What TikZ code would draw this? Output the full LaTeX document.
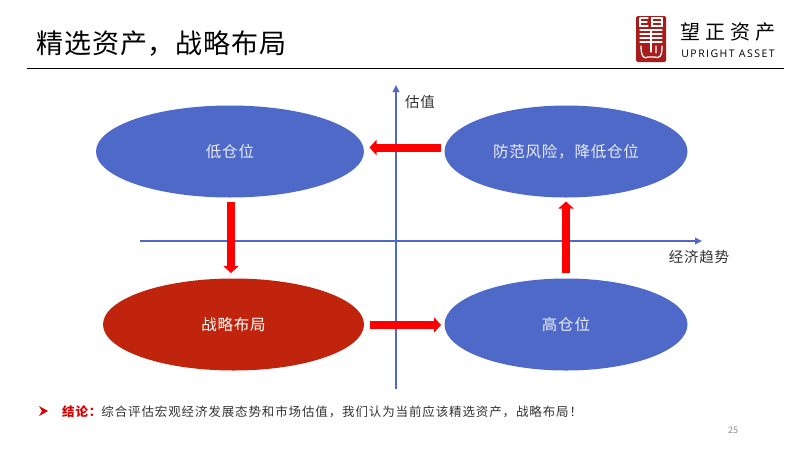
\documentclass[tikz,border=0pt]{standalone}
\usepackage{fontspec}
\setmainfont{Noto Sans CJK SC}
\newfontfamily\latinf{Open Sans}
\newfontfamily\spaceda[LetterSpace=5]{Noto Sans CJK SC}
\newfontfamily\spacedb[LetterSpace=3.5]{Noto Sans CJK SC}
\newfontfamily\spacedc[LetterSpace=7]{Noto Sans CJK SC}
\newfontfamily\spacedd[LetterSpace=26.5]{Noto Sans CJK SC}
\usetikzlibrary{arrows.meta,shapes.geometric}
\definecolor{blu}{HTML}{4F69C9}
\definecolor{axisb}{HTML}{4F69C9}
\definecolor{rd}{HTML}{C1240C}
\definecolor{seal}{HTML}{A81C1C}
\tikzset{x=1pt,y=-1pt,
 oval/.style={ellipse,draw=none,fill=blu,inner sep=0,minimum width=#1,text=white!88!blu,font=\spaceda\fontsize{15.5}{15.5}\selectfont},
 axisline/.style={draw=axisb,line width=2pt,-{Triangle[length=7pt,width=6.5pt]}},
 block/.style={draw=red,line width=8pt,-{Triangle[length=7pt,width=15pt]}},
 lab/.style={inner sep=0,text=black!80,font=\spaceda\fontsize{14.5}{14.5}\selectfont},
 sealstroke/.style={draw=white,line width=1.3pt,line cap=round}}
\begin{document}
\begin{tikzpicture}
\useasboundingbox (0,0) rectangle (800,450);
\fill[white] (0,0) rectangle (800,450);
% title
\node[inner sep=0,anchor=west,font=\spacedb\fontsize{27}{27}\selectfont,text=black] (title) at (36,44) {精选资产，战略布局};
\coordinate (ruleL) at (27,68.5);
\coordinate (ruleR) at (784,68.5);
\draw[line width=1.2pt,black] (ruleL) -- (ruleR);
% logo
\node[draw=none,fill=seal,rounded corners=1.5pt,minimum width=30pt,minimum height=46pt,inner sep=0] (sealbox) at (651,39) {};
\draw[sealstroke] (640,18) -- (640,26) -- (648,26) (640,22) -- (647,22) (640,18) -- (648,18);
\draw[sealstroke] (652,18) rectangle (662,26) (652,22) -- (662,22);
\draw[sealstroke] (640,30) -- (662,30) (640,34) -- (662,34) (640,38) -- (662,38) (640,42) -- (662,42) (651,30) -- (651,52);
\draw[sealstroke] (641,46) .. controls (641,58) and (645,59) .. (648,57) -- (654,57) .. controls (660,59) and (662,56) .. (662,46) (656,46) -- (656,53);
\node[inner sep=0,anchor=center,font=\spacedd\fontsize{20}{20}\selectfont,text=black] (cn) at (728,32) {望正资产};
\node[inner sep=0,anchor=center,font=\latinf\fontsize{10.5}{10.5}\selectfont,text=black] (en) at (728,53.5) {\addfontfeature{LetterSpace=14}UPRIGHT ASSET};
% axes
\coordinate (xS) at (140,241);
\coordinate (xE) at (702,241);
\coordinate (yS) at (396,389);
\coordinate (yE) at (396,85);
\draw[axisline] (xS) -- (xE);
\draw[axisline] (yS) -- (yE);
\node[lab,anchor=west] (gz) at (405,101.5) {估值};
\node[lab,anchor=center] (jj) at (699,256.5) {经济趋势};
% ovals
\node[oval=268pt,minimum height=92pt] (low) at (230,151.5) {\raisebox{-2pt}{低仓位}};
\node[oval=243pt,minimum height=92pt] (fang) at (566,151.5) {\raisebox{-2pt}{防范风险，降低仓位}};
\node[oval=261pt,minimum height=92pt,fill=rd,text=white] (zl) at (233.5,324.5) {\raisebox{-2pt}{战略布局}};
\node[oval=243pt,minimum height=92pt] (gao) at (566,324.5) {\raisebox{-2pt}{高仓位}};
% block arrows
\coordinate (a1s) at (441,147.5);\coordinate (a1e) at (369.5,147.5);
\coordinate (a2s) at (231,201.5);\coordinate (a2e) at (231,273);
\coordinate (a3s) at (369.5,325);\coordinate (a3e) at (441,325);
\coordinate (a4s) at (566,273);\coordinate (a4e) at (566,201.5);
\draw[block] (a1s) -- (a1e);
\draw[block] (a2s) -- (a2e);
\draw[block] (a3s) -- (a3e);
\draw[block] (a4s) -- (a4e);
% conclusion
\fill[red!85!black] (39,406) -- (48,411) -- (39,416) -- (42,411) -- cycle;
\node[inner sep=0,anchor=west,font=\spacedc\fontsize{12.5}{12.5}\selectfont,text=black!80] (con) at (62,411.5) {\textcolor{red!85!black}{\bfseries 结论：}综合评估宏观经济发展态势和市场估值，我们认为当前应该精选资产，战略布局！};
\node[inner sep=0,font=\fontsize{9}{9}\selectfont,text=black!45] (pg) at (733,430) {25};
\end{tikzpicture}
\end{document}
